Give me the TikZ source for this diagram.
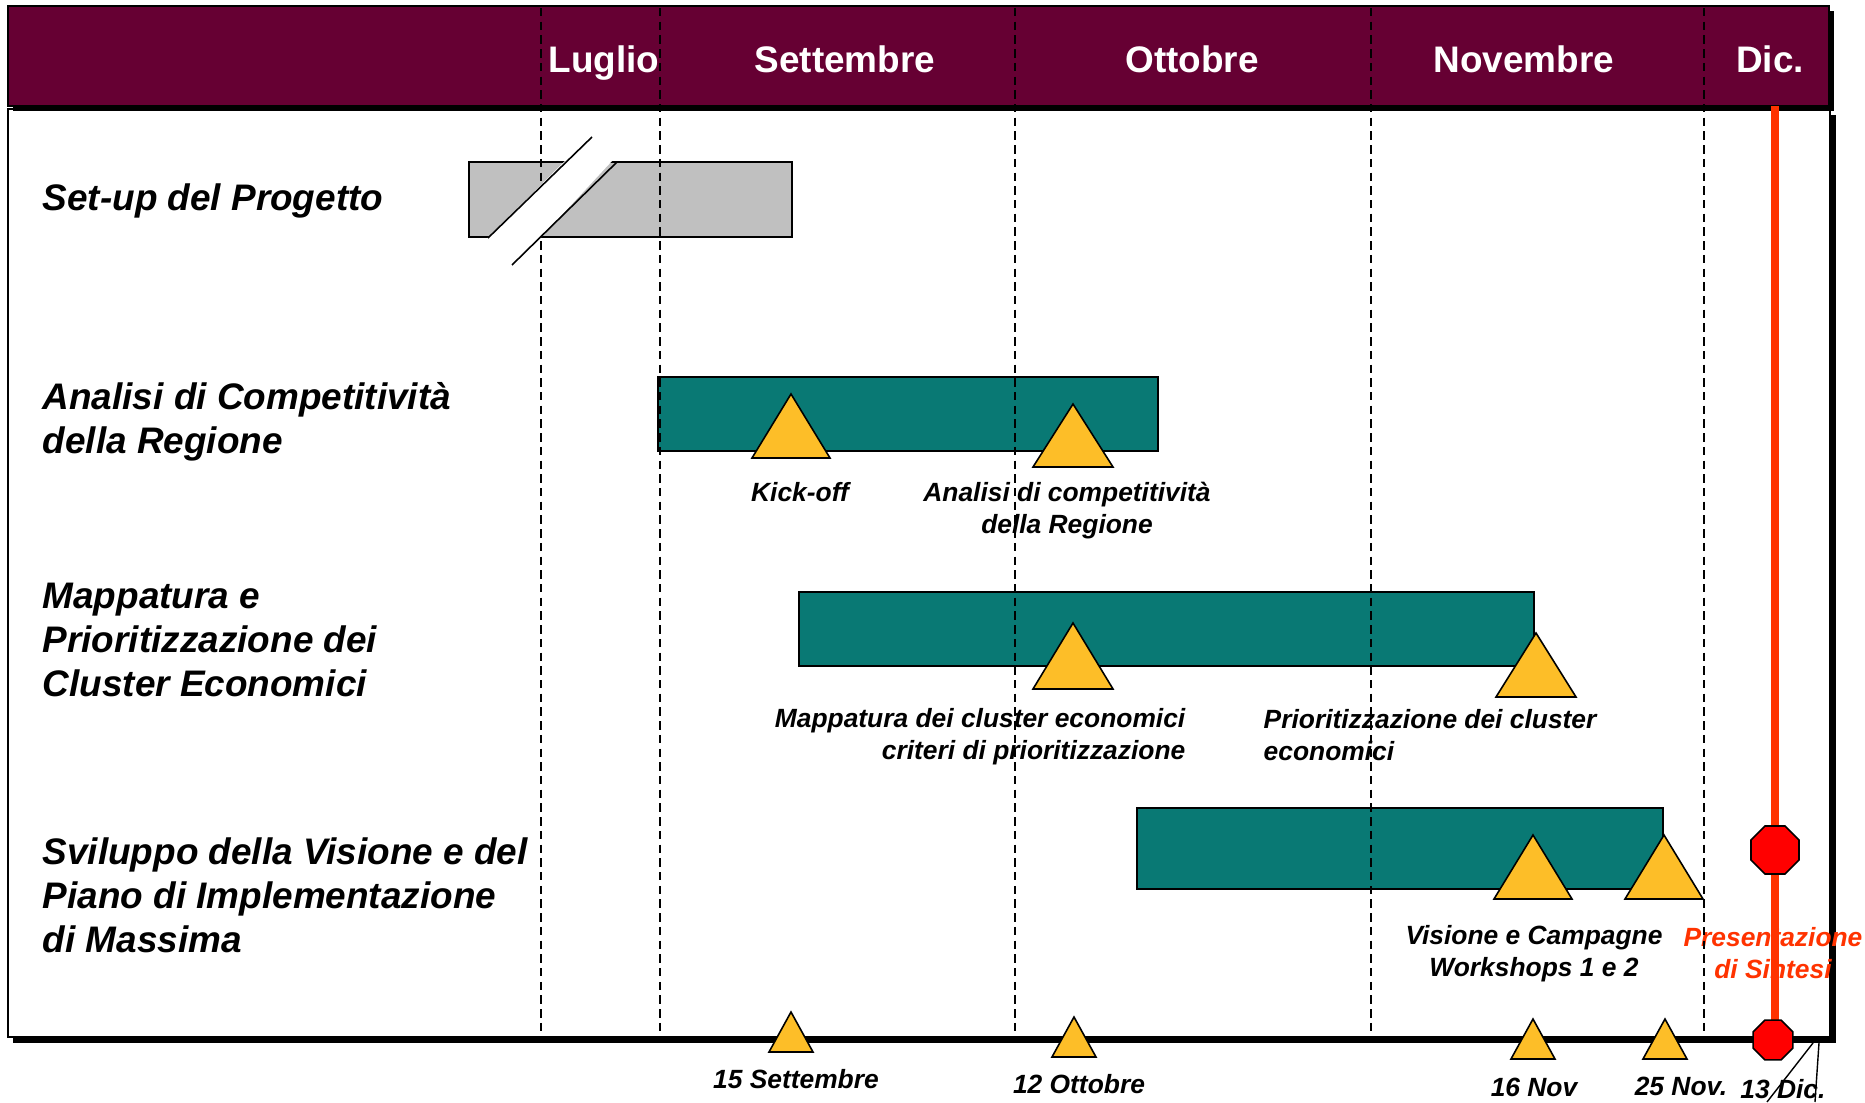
\documentclass[tikz,border=0pt]{standalone}
\usepackage{fontspec}
\setmainfont{Liberation Sans}
\usetikzlibrary{shapes.geometric}
\definecolor{headbg}{RGB}{102,0,51}
\definecolor{barteal}{RGB}{9,121,116}
\definecolor{msgold}{RGB}{253,190,40}
\definecolor{bargray}{RGB}{192,192,192}
\definecolor{deadline}{RGB}{255,51,0}

\begin{document}
\begin{tikzpicture}[x=0.01cm,y=-0.01cm,
  rowlabel/.style={font=\fontsize{10.5}{12.5}\selectfont\bfseries\itshape,anchor=west,align=left},
  monthlabel/.style={font=\fontsize{10.5}{12.5}\selectfont\bfseries,text=white},
  mslabel/.style={font=\fontsize{7.5}{9.1}\selectfont\bfseries\itshape,align=center},
  bar/.style={draw=black,line width=0.5pt,fill=barteal},
  milestone/.style={draw=black,line width=0.45pt,fill=msgold},
  monthline/.style={dash pattern=on 2.4pt off 1.5pt,line width=0.45pt},
  stopsign/.style={regular polygon,regular polygon sides=8,draw=black,line width=0.45pt,fill=red,inner sep=0pt}]
\tikzstyle{every node}+=[inner sep=0pt]
\useasboundingbox (0,0) rectangle (1865,1103);
% frame and month header
\fill [black] (13,115) rectangle (1836,1043);
\draw [fill=white,line width=0.5pt] (8,109) rectangle (1830,1037);
\fill [black] (13,11) rectangle (1834,111);
\draw [fill=headbg,line width=0.4pt] (8,6) rectangle (1829,106);
\draw (604,63) node[monthlabel] (jul) {Luglio};
\draw (845,59) node[monthlabel] (sep) {Settembre};
\draw (1192,59) node[monthlabel] (oct) {Ottobre};
\draw (1524,59) node[monthlabel] (nov) {Novembre};
\draw (1770,59) node[monthlabel] (dec) {Dic.};
% activities
\draw (42,201) node[rowlabel] (setup) {Set-up del Progetto};
\draw (42,422) node[rowlabel] (analisi) {Analisi di Competitività\\della Regione};
\draw (42,640) node[rowlabel] (mappa) {Mappatura e\\Prioritizzazione dei\\Cluster Economici};
\draw (42,895) node[rowlabel] (visione) {Sviluppo della Visione e del\\Piano di Implementazione\\di Massima};
\draw [bar,fill=bargray] (469,162) rectangle (792,237);
\draw [bar] (658,377) rectangle (1158,451);
\draw [bar] (799,592) rectangle (1534,666);
\draw [bar] (1137,808) rectangle (1663,889);
% milestones on the bars
\foreach \mx/\ap/\bs/\hw in {791/394/458/39,1073/404/467/40,1073/623/689/40,1536/633/697/40,1533/835/899/39,1664/835/899/39}
  \draw [milestone] ({\mx-\hw},\bs) -- (\mx,\ap) -- ({\mx+\hw},\bs) -- cycle;
\draw (800,492) node[mslabel] (kick) {Kick-off};
\draw (1067,511) node[mslabel] (compet) {Analisi di competitività\\della Regione};
\draw (1186,737) node[mslabel,anchor=east,align=right] (mapcl) {Mappatura dei cluster economici\\criteri di prioritizzazione};
\draw (1263,735) node[mslabel,anchor=west,align=left] (prio) {Prioritizzazione dei cluster\\economici};
\draw (1534,954) node[mslabel] (work) {Visione e Campagne\\Workshops 1 e 2};
\draw (1773,953) node[mslabel,text=deadline] (sintesi) {Presentazione\\di Sintesi};
% month boundaries
\foreach \x in {541,660,1015,1371,1704}
  \draw [monthline] (\x,8) -- (\x,1036);
% break in the set-up bar
\fill [white] (487,238.5) -- (565,161) -- (612,161) -- (540,238.5) -- cycle;
\draw [line width=0.45pt] (488,238) -- (592,137);
\draw [line width=0.45pt] (512,265) -- (617,162);
% final presentation
\draw [deadline,line width=2pt] (1775,106) -- (1775,1037);
\draw (1775,850) node[stopsign,minimum size=0.52cm] (stop) {};
\draw (1773,1040) node[stopsign,minimum size=0.43cm] (stopend) {};
% dates on the time axis
\foreach \mx/\ap/\bs in {791/1012/1052,1074/1017/1057,1533/1019/1059,1665/1019/1059}
  \draw [milestone] ({\mx-22},\bs) -- (\mx,\ap) -- ({\mx+22},\bs) -- cycle;
\draw (796,1079) node[mslabel] (d1) {15 Settembre};
\draw (1079,1084) node[mslabel] (d2) {12 Ottobre};
\draw (1534,1087) node[mslabel] (d3) {16 Nov};
\draw (1681,1086) node[mslabel] (d4) {25 Nov.};
\draw (1783,1089) node[mslabel] (d5) {13 Dic.};
\draw [line width=0.4pt] (1813,1043) -- (1767,1102);
\draw [line width=0.4pt] (1819,1043) -- (1815,1102);
\end{tikzpicture}
\end{document}
